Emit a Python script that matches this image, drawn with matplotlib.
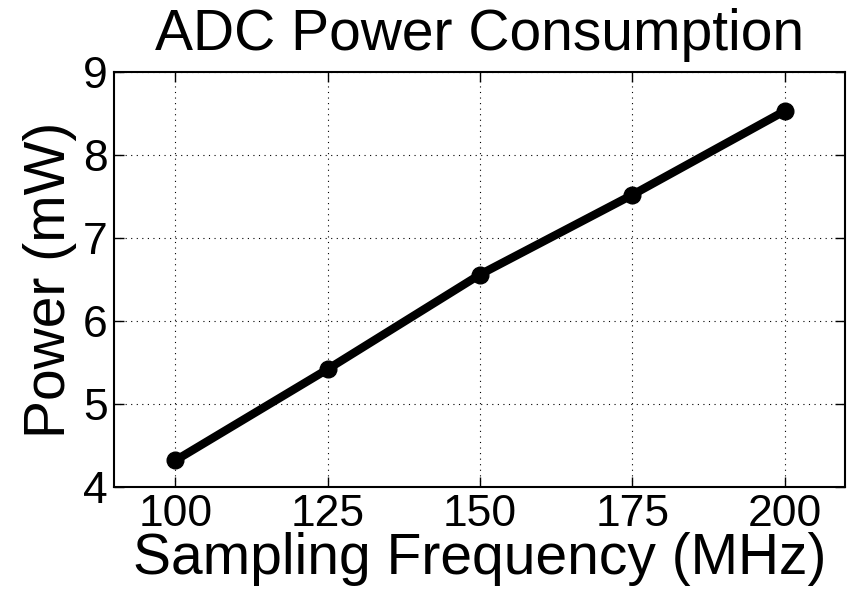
import matplotlib

matplotlib.use("Agg")
import matplotlib.pyplot as plt

# Measured ADC power at each sampling rate
freq_mhz = [100, 125, 150, 175, 200]
power_mw = [4.32, 5.42, 6.56, 7.52, 8.53]

plt.rcParams["font.family"] = ["Liberation Sans", "DejaVu Sans"]

fig = plt.figure(figsize=(8.48, 5.91), dpi=100)
ax = fig.add_axes([0.135, 0.176, 0.862, 0.702])

ax.plot(freq_mhz, power_mw, color="black", linewidth=6, marker="o", markersize=12)

ax.set_xlim(90, 210)
ax.set_ylim(4, 9)
ax.set_xticks(freq_mhz)
ax.set_yticks([4, 5, 6, 7, 8, 9])
ax.grid(True, color="black", linestyle=(0, (1, 4)), linewidth=0.8)
ax.tick_params(direction="in", length=7, width=1, labelsize=32, top=True, right=True, pad=5)
for spine in ax.spines.values():
    spine.set_linewidth(1.5)

ax.set_title("ADC Power Consumption", fontsize=41, pad=16)
ax.set_xlabel("Sampling Frequency (MHz)", fontsize=41, labelpad=-2)
ax.set_ylabel("Power (mW)", fontsize=41, labelpad=4)

fig.savefig("out.png", dpi=100)
